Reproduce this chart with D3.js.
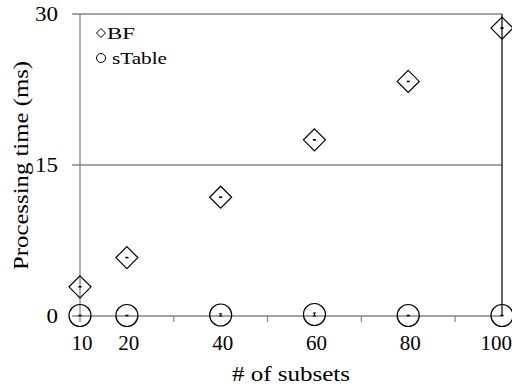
<!DOCTYPE html>
<html>
<head>
<meta charset="utf-8">
<script src="https://cdn.jsdelivr.net/npm/d3@7"></script>
<style>
  body { margin: 0; background: #fff; }
</style>
</head>
<body>
<div id="chart"></div>
<script>
// data
var subsets = [10, 20, 40, 60, 80, 100];
var bfTime = [2.9, 5.8, 11.8, 17.5, 23.3, 28.6];
var bfErr = [0.03, 0.03, 0.03, 0.03, 0.03, 0.03];
var sTableTime = [0.05, 0.05, 0.1, 0.15, 0.05, 0.05];
var sTableErr = [0.03, 0.03, 0.12, 0.15, 0.03, 0.03];
var yTicks = [0, 15, 30];
var minorX = [30, 50, 70, 90];

var width = 512, height = 388;
var margin = {left: 80, right: 10, top: 14, bottom: 72};

var svg = d3.select("#chart").append("svg")
  .attr("width", width)
  .attr("height", height)
  .attr("font-family", "'Liberation Serif', Tinos, 'Times New Roman', Times, serif")
  .attr("fill", "#000");

var x = d3.scaleLinear().domain([10, 100]).range([margin.left, width - margin.right]);
var y = d3.scaleLinear().domain([0, 30]).range([height - margin.bottom, margin.top]);

var grey = "#868686";

// horizontal gridlines / ticks
svg.append("g").selectAll("line")
  .data(yTicks.slice(1))
  .enter().append("line")
  .attr("x1", x(10) - 8).attr("x2", x(100))
  .attr("y1", function(d) { return y(d); })
  .attr("y2", function(d) { return y(d); })
  .style("stroke", grey).style("stroke-width", 1.3);

// y axis line
svg.append("line")
  .attr("x1", x(10)).attr("x2", x(10))
  .attr("y1", y(30)).attr("y2", y(0) + 6)
  .style("stroke", grey).style("stroke-width", 1.3);

// x axis line
svg.append("line")
  .attr("x1", x(10) - 8).attr("x2", x(100))
  .attr("y1", y(0)).attr("y2", y(0))
  .style("stroke", grey).style("stroke-width", 1.5);

// minor ticks below x axis
svg.append("g").selectAll("line")
  .data(minorX)
  .enter().append("line")
  .attr("x1", function(d) { return x(d); })
  .attr("x2", function(d) { return x(d); })
  .attr("y1", y(0)).attr("y2", y(0) + 6)
  .style("stroke", grey).style("stroke-width", 1.2);

// right border
svg.append("line")
  .attr("x1", x(100)).attr("x2", x(100))
  .attr("y1", y(30)).attr("y2", y(0))
  .style("stroke", "#000").style("stroke-width", 1.2);

// the picture's text is stretched sideways, so fix each text's length
function stretched(sel, len) {
  return sel.attr("textLength", len).attr("lengthAdjust", "spacingAndGlyphs");
}

// y tick labels
svg.append("g").selectAll("text")
  .data(yTicks)
  .enter().append("text")
  .attr("x", 58)
  .attr("y", function(d) { return y(d) + 6.5; })
  .attr("text-anchor", "end")
  .style("font-size", "20px")
  .attr("textLength", function(d) { return String(d).length * 11.5; })
  .attr("lengthAdjust", "spacingAndGlyphs")
  .text(function(d) { return d; });

// x tick labels
svg.append("g").selectAll("text")
  .data(subsets)
  .enter().append("text")
  .attr("x", function(d) {
    var len = String(d).length * 10.5;
    return Math.min(x(d) + 2, width - len / 2);
  })
  .attr("y", 350)
  .attr("text-anchor", "middle")
  .style("font-size", "20px")
  .attr("textLength", function(d) { return String(d).length * 10.5; })
  .attr("lengthAdjust", "spacingAndGlyphs")
  .text(function(d) { return d; });

// axis titles
stretched(svg.append("text")
  .attr("transform", "translate(28," + 165.5 + ") rotate(-90)")
  .attr("text-anchor", "middle")
  .style("font-size", "22px"), 209)
  .text("Processing time (ms)");

stretched(svg.append("text")
  .attr("x", 291).attr("y", 381)
  .attr("text-anchor", "middle")
  .style("font-size", "22px"), 118)
  .text("# of subsets");

var diamond = function(cx, cy, r) {
  return "M" + cx + "," + (cy - r) + "L" + (cx + r) + "," + cy +
    "L" + cx + "," + (cy + r) + "L" + (cx - r) + "," + cy + "Z";
};

function errBars(vals, errs) {
  var g = svg.append("g").style("stroke", "#000").style("stroke-width", 1);
  subsets.forEach(function(s, i) {
    var cx = x(s);
    var lo = y(Math.max(0, vals[i] - errs[i])), hi = y(vals[i] + errs[i]);
    g.append("line").attr("x1", cx).attr("x2", cx).attr("y1", lo).attr("y2", hi);
    g.append("line").attr("x1", cx - 1.5).attr("x2", cx + 1.5).attr("y1", lo).attr("y2", lo);
    g.append("line").attr("x1", cx - 1.5).attr("x2", cx + 1.5).attr("y1", hi).attr("y2", hi);
  });
}

// BF diamonds
svg.append("g").selectAll("path")
  .data(bfTime)
  .enter().append("path")
  .attr("d", function(d, i) { return diamond(x(subsets[i]), y(d), 11); })
  .style("fill", "none").style("stroke", "#000").style("stroke-width", 1.2);
errBars(bfTime, bfErr);

// sTable circles
svg.append("g").selectAll("circle")
  .data(sTableTime)
  .enter().append("circle")
  .attr("cx", function(d, i) { return x(subsets[i]); })
  .attr("cy", function(d) { return y(d); })
  .attr("r", 11)
  .style("fill", "none").style("stroke", "#000").style("stroke-width", 1.2);
errBars(sTableTime, sTableErr);

// legend
svg.append("path")
  .attr("d", diamond(101, 33, 4.5))
  .style("fill", "none").style("stroke", "#000").style("stroke-width", 1);
stretched(svg.append("text").attr("x", 107).attr("y", 38.5).style("font-size", "16px"), 28).text("BF");
svg.append("circle")
  .attr("cx", 101).attr("cy", 58).attr("r", 4.5)
  .style("fill", "none").style("stroke", "#000").style("stroke-width", 1);
stretched(svg.append("text").attr("x", 112).attr("y", 63.5).style("font-size", "16px"), 55).text("sTable");
</script>
</body>
</html>
